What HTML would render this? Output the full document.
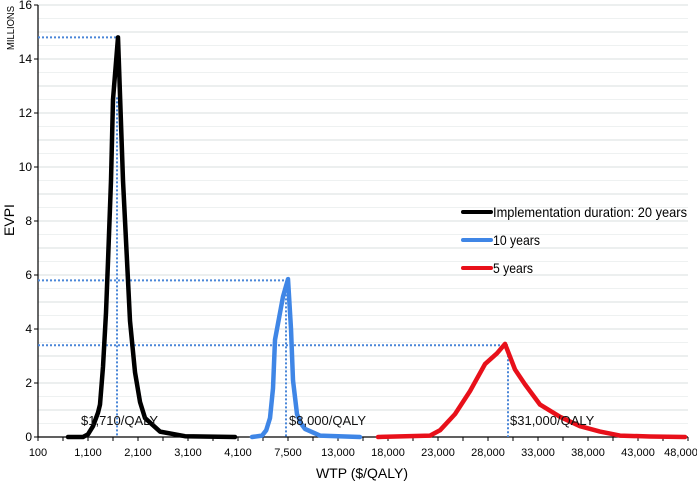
<!DOCTYPE html>
<html><head><meta charset="utf-8"><style>
body{margin:0;background:#fff;}
svg{display:block;font-family:"Liberation Sans",sans-serif;}
</style></head><body>
<svg id="c" width="697" height="484"></svg>
<script>
const yTicks=[0,2,4,6,8,10,12,14,16];
const xTickLabels=["100","1,100","2,100","3,100","4,100","7,500","13,000","18,000","23,000","28,000","33,000","38,000","43,000","48,000"];
const blackWtp=[700,1000,1100,1200,1300,1340,1400,1460,1500,1560,1600,1700,1800,1900,1940,2040,2140,2240,2540,3040,4040];
const blackVal=[0,0,0.1,0.4,0.9,1.2,2.6,4.6,6.5,9.5,12.5,14.8,9.5,5.8,4.3,2.4,1.3,0.7,0.2,0.03,0];
const blueWtp=[5192,5972,6300,6596,6830,6986,7610,8000,8300,8500,8900,9300,9700,11200,15200];
const blueVal=[0,0.05,0.25,0.7,1.8,3.6,5.2,5.85,4.0,2.1,0.85,0.5,0.3,0.05,0];
const redWtp=[17000,22200,23200,24700,26200,27700,28900,29700,30700,31700,33200,35200,37200,39200,41200,44200,47700];
const redVal=[0,0.05,0.25,0.85,1.7,2.7,3.1,3.45,2.5,1.95,1.2,0.75,0.4,0.2,0.05,0.02,0];
const refs=[{wtp:1710,v:14.8,label:"$1,710/QALY",lx:81},{wtp:8000,v:5.8,label:"$8,000/QALY",lx:289},{wtp:31000,v:3.4,label:"$31,000/QALY",lx:510}];
const refX=[117,286,508];

const NS="http://www.w3.org/2000/svg",svg=document.getElementById('c');
function el(t,a,p){const e=document.createElementNS(NS,t);for(const k in a)e.setAttribute(k,a[k]);(p||svg).appendChild(e);return e;}
const X0=38,X1=688,Y0=437;
function y(v){return Y0-27*v;}
const anchors=[[100,38],[4100,238],[8000,288],[13000,338],[18000,388],[48000,688]];
function x(w){
  if(w<=4100)return 38+(w-100)/20;
  if(w>=17000&&w<18000)return 388-(18000-w)/100;
  for(let i=0;i<anchors.length-1;i++){const a=anchors[i],b=anchors[i+1];
    if(w<=b[0])return a[1]+(w-a[0])/(b[0]-a[0])*(b[1]-a[1]);}
  return 688;
}
for(let i=1;i<=32;i++){const g=el('line',{x1:X0,x2:X1,y1:y(i/2),y2:y(i/2),stroke:i%2?'#eef1f1':'#d9dfdf','stroke-width':1});
}
const ya=el('line',{x1:X0,x2:X0,y1:y(16),y2:Y0,stroke:'#000','stroke-width':1.2});

yTicks.forEach(t=>{el('line',{x1:X0-4,x2:X0,y1:y(t),y2:y(t),stroke:'#000'});
 const tx=el('text',{x:X0-6,y:y(t)+4,'text-anchor':'end','font-size':12,fill:'#000'});tx.textContent=t;
 });
const xa=el('line',{x1:X0,x2:X1,y1:Y0,y2:Y0,stroke:'#000','stroke-width':1.2});

for(let i=0;i<=26;i++)el('line',{x1:X0+i*25,x2:X0+i*25,y1:Y0,y2:Y0+4,stroke:'#000'});
xTickLabels.forEach((l,i)=>{const cx=Math.min(X0+i*50,681);
 const tx=el('text',{x:cx,y:Y0+19,'text-anchor':'middle','font-size':11,fill:'#000'});tx.textContent=l;
 });
refs.forEach((r,i)=>{
 const h=el('line',{x1:X0,x2:refX[i],y1:y(r.v),y2:y(r.v),stroke:'#4a86d8','stroke-width':2,'stroke-dasharray':'2,2'});
 
 const vv=el('line',{x1:refX[i],x2:refX[i],y1:y(r.v)+(i==0?60:6),y2:Y0,stroke:'#4a86d8','stroke-width':2,'stroke-dasharray':'2,2'});
 
});
function series(ws,vs,col,name){const d=ws.map((w,i)=>(i?'L':'M')+x(w).toFixed(1)+','+y(vs[i]).toFixed(1)).join('');
 const p=el('path',{d:d,fill:'none',stroke:col,'stroke-width':4.5,'stroke-linejoin':'round','stroke-linecap':'round'});
 }
series(blackWtp,blackVal,'#000','series-20-years');
series(blueWtp,blueVal,'#3f86e6','series-10-years');
series(redWtp,redVal,'#e8101a','series-5-years');
refs.forEach(r=>{const t=el('text',{x:r.lx,y:425,'font-size':13,fill:'#111'});t.textContent=r.label;
 });
[['#000','Implementation duration: 20 years',212,194],['#3f86e6','10 years',240,47],['#e8101a','5 years',268,40]].forEach(l=>{
 const g=el('g',{});
 el('line',{x1:463,x2:491,y1:l[2],y2:l[2],stroke:l[0],'stroke-width':4,'stroke-linecap':'round'},g);
 const t=el('text',{x:493,y:l[2]+5,'font-size':14,fill:'#000',textLength:l[3],lengthAdjust:'spacingAndGlyphs'},g);t.textContent=l[1];});
const t1=el('text',{x:0,y:0,'font-size':10,textLength:44,lengthAdjust:'spacingAndGlyphs',transform:'translate(14,50) rotate(-90)'});t1.textContent='MILLIONS';

const t2=el('text',{x:0,y:0,'font-size':14,'text-anchor':'middle',transform:'translate(14,220) rotate(-90)'});t2.textContent='EVPI';

const t3=el('text',{x:362,y:478,'font-size':14,'text-anchor':'middle'});t3.textContent='WTP ($/QALY)';

</script>
</body></html>
